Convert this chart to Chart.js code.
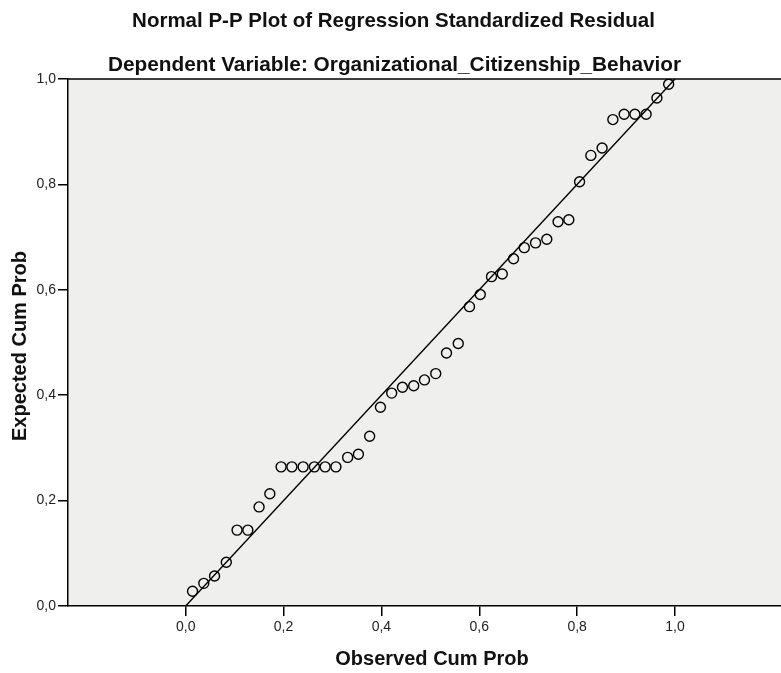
<!DOCTYPE html>
<html>
<head>
<meta charset="utf-8">
<script src="https://cdn.jsdelivr.net/npm/chart.js@4.4.1/dist/chart.umd.min.js"></script>
<style>
  body { margin: 0; background: #fff; }
  canvas { display: block; }
</style>
</head>
<body>
<canvas id="ppPlot" width="781" height="673"></canvas>
<script>
// observed cumulative probability (x) and expected cumulative probability (y)
const observed = [
  0.014, 0.037, 0.059, 0.083, 0.105, 0.127, 0.150, 0.172, 0.195, 0.217, 0.240,
  0.263, 0.285, 0.307, 0.331, 0.353, 0.376, 0.398, 0.421, 0.443, 0.466, 0.488,
  0.511, 0.533, 0.557, 0.580, 0.602, 0.625, 0.647, 0.670, 0.692, 0.715, 0.738,
  0.761, 0.783, 0.805, 0.828, 0.851, 0.873, 0.896, 0.918, 0.941, 0.963, 0.987
];
const expected = [
  0.028, 0.043, 0.057, 0.083, 0.144, 0.144, 0.188, 0.213, 0.264, 0.264, 0.264,
  0.264, 0.264, 0.264, 0.282, 0.288, 0.322, 0.377, 0.404, 0.415, 0.418, 0.429,
  0.441, 0.480, 0.498, 0.568, 0.591, 0.625, 0.630, 0.659, 0.680, 0.689, 0.696,
  0.729, 0.733, 0.805, 0.855, 0.869, 0.923, 0.933, 0.933, 0.933, 0.964, 0.990
];
const refLine = [0, 1];
const xTicks = [0, 0.2, 0.4, 0.6, 0.8, 1.0];
const yTicks = [0, 0.2, 0.4, 0.6, 0.8, 1.0];

const points = observed.map((x, i) => ({ x: x, y: expected[i] }));
const fmt = v => Number(v).toFixed(1).replace('.', ',');
const FONT = '"Liberation Sans", Arial, sans-serif';

// background, top frame line and all titles
const decor = {
  id: 'decor',
  beforeDraw(chart) {
    const { ctx, chartArea: a } = chart;
    ctx.save();
    ctx.fillStyle = '#efefed';
    ctx.fillRect(a.left, a.top, a.right - a.left, a.bottom - a.top);
    ctx.restore();
  },
  afterDraw(chart) {
    const { ctx, chartArea: a } = chart;
    ctx.save();
    ctx.strokeStyle = '#000';
    ctx.lineWidth = 1.5;
    ctx.beginPath();
    ctx.moveTo(a.left, a.top);
    ctx.lineTo(a.right, a.top);
    ctx.stroke();

    ctx.fillStyle = '#111';
    ctx.textAlign = 'center';
    ctx.textBaseline = 'alphabetic';
    ctx.font = 'bold 20.5px ' + FONT;
    ctx.fillText('Normal P-P Plot of Regression Standardized Residual', 393.5, 27);
    ctx.font = 'bold 20.8px ' + FONT;
    ctx.fillText('Dependent Variable: Organizational_Citizenship_Behavior', 394.5, 71);

    ctx.font = 'bold 20px ' + FONT;
    ctx.fillText('Observed Cum Prob', 432, 665);
    ctx.translate(26, 346);
    ctx.rotate(-Math.PI / 2);
    ctx.fillText('Expected Cum Prob', 0, 0);
    ctx.restore();
  }
};

new Chart(document.getElementById('ppPlot'), {
  type: 'scatter',
  data: {
    datasets: [
      {
        type: 'line',
        data: refLine.map(v => ({ x: v, y: v })),
        borderColor: '#000',
        borderWidth: 1.4,
        pointRadius: 0,
        fill: false
      },
      {
        data: points,
        pointRadius: 5,
        pointBorderColor: '#000',
        pointBorderWidth: 1.4,
        pointBackgroundColor: 'rgba(0,0,0,0)'
      }
    ]
  },
  options: {
    responsive: false,
    animation: false,
    layout: { autoPadding: false, padding: { top: 79, right: 0, bottom: 0, left: 0 } },
    plugins: { legend: { display: false }, tooltip: { enabled: false } },
    scales: {
      x: {
        type: 'linear',
        min: -0.2405,
        max: 1.2166,
        afterBuildTicks: s => { s.ticks = xTicks.map(v => ({ value: v })); },
        afterFit: s => { s.height = 67; },
        grid: { drawOnChartArea: false, tickLength: 10, color: '#000', lineWidth: 1.5 },
        border: { display: true, color: '#000', width: 1.5 },
        ticks: {
          callback: fmt,
          color: '#222',
          padding: 3,
          maxRotation: 0,
          font: { family: FONT, size: 14 }
        }
      },
      y: {
        type: 'linear',
        min: 0,
        max: 1,
        afterBuildTicks: s => { s.ticks = yTicks.map(v => ({ value: v })); },
        afterFit: s => { s.width = 68; },
        grid: { drawOnChartArea: false, tickLength: 10, color: '#000', lineWidth: 1.5 },
        border: { display: true, color: '#000', width: 1.5 },
        ticks: {
          callback: fmt,
          color: '#222',
          padding: 2,
          font: { family: FONT, size: 14 }
        }
      }
    }
  },
  plugins: [decor]
});
</script>
</body>
</html>
